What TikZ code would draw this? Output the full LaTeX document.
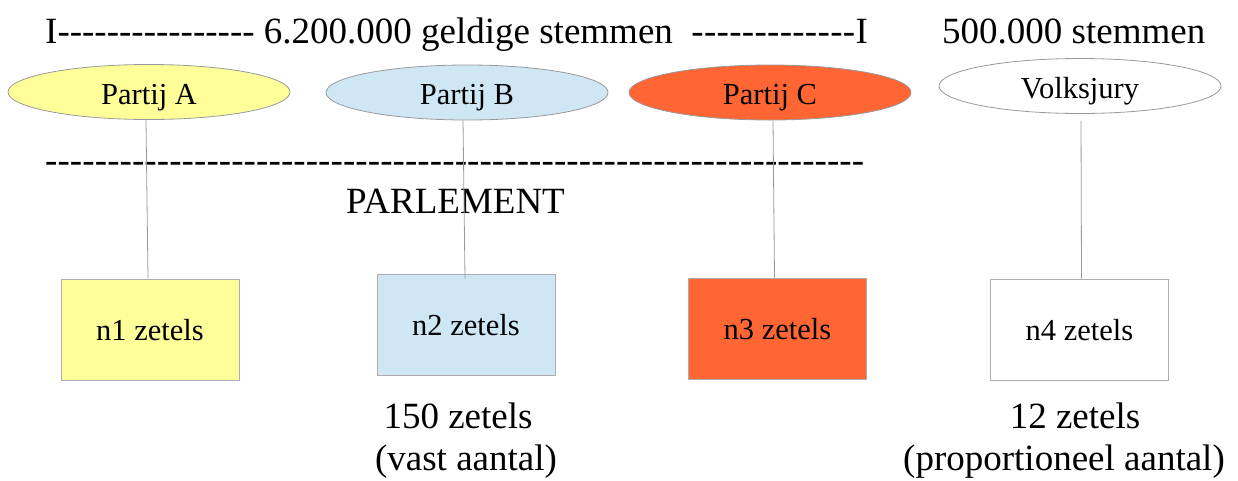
\documentclass[tikz,border=0pt]{standalone}
\usepackage{fontspec}
\setmainfont{Liberation Serif}
\usetikzlibrary{shapes.geometric,calc}
\definecolor{cA}{HTML}{FFFF99}
\definecolor{cB}{HTML}{CFE7F5}
\definecolor{cC}{HTML}{FF6633}
\definecolor{edgegray}{HTML}{999999}
\newcommand\hyrun[2][0pt]{\foreach \k in {1,...,#2}{\mbox{-}\kern#1}}
\begin{document}
\begin{tikzpicture}[x=1pt,y=-1pt,
  big/.style={font=\fontsize{37}{42}\selectfont, inner sep=0pt},
  party/.style={ellipse, draw=edgegray, line width=0.8pt, minimum width=282pt, minimum height=55pt,
    inner sep=0pt, font=\fontsize{30.5}{34}\selectfont, text height=24pt, text depth=0pt},
  seat/.style={rectangle, draw=edgegray!80, line width=0.8pt, minimum width=178pt, minimum height=101pt,
    inner sep=0pt, font=\fontsize{30.5}{34}\selectfont, text height=22pt, text depth=0pt},
  link/.style={draw=edgegray, line width=0.8pt}]
\useasboundingbox (0,0) rectangle (1238,480);
% headers
\node[big, anchor=base west] (hdr) at (45,43) {I\hyrun{16} 6.200.000 geldige stemmen\ \ \hyrun[0.3pt]{13}I};
\node[big, anchor=base west] (hdr2) at (942,43) {500.000 stemmen};
% dashed separator (text)
\node[big, anchor=base west] (sep) at (45,172) {\hyrun[0.09pt]{66}};
\node[big, anchor=base] (parl) at (455.5,213) {PARLEMENT};
% parties
\node[party, fill=cA] (pA) at (149,92) {Partij A};
\node[party, fill=cB] (pB) at (467,92.5) {Partij B};
\node[party, fill=cC] (pC) at (770,92.5) {Partij C};
\node[party, fill=white] (pD) at (1080,86) {Volksjury};
% seats
\node[seat, fill=cA] (nA) at (150,329.5) {n1 zetels};
\node[seat, fill=cB] (nB) at (466,324.5) {n2 zetels};
\node[seat, fill=cC] (nC) at (777.5,328.5) {n3 zetels};
\node[seat, fill=white] (nD) at (1079.5,329.5) {n4 zetels};
% connectors
\draw[link] ($(pA.south)+(-3,0)$) -- ($(nA.north)+(-2,0)$);
\draw[link] ($(pB.south)+(-4,0)$) -- ($(nB.north)+(-1,5)$);
\draw[link] ($(pC.south)+(3,0)$) -- ($(nC.north)+(-3,0)$);
\draw[link] ($(pD.south)+(1,7)$) -- ($(nD.north)+(2,0)$);
% bottom labels
\node[big, anchor=base] (t150) at (458,428) {150 zetels};
\node[big, anchor=base] (tvast) at (466,470) {(vast aantal)};
\node[big, anchor=base] (t12) at (1075,428) {12 zetels};
\node[big, anchor=base] (tprop) at (1064,470) {(proportioneel aantal)};
\end{tikzpicture}
\end{document}
